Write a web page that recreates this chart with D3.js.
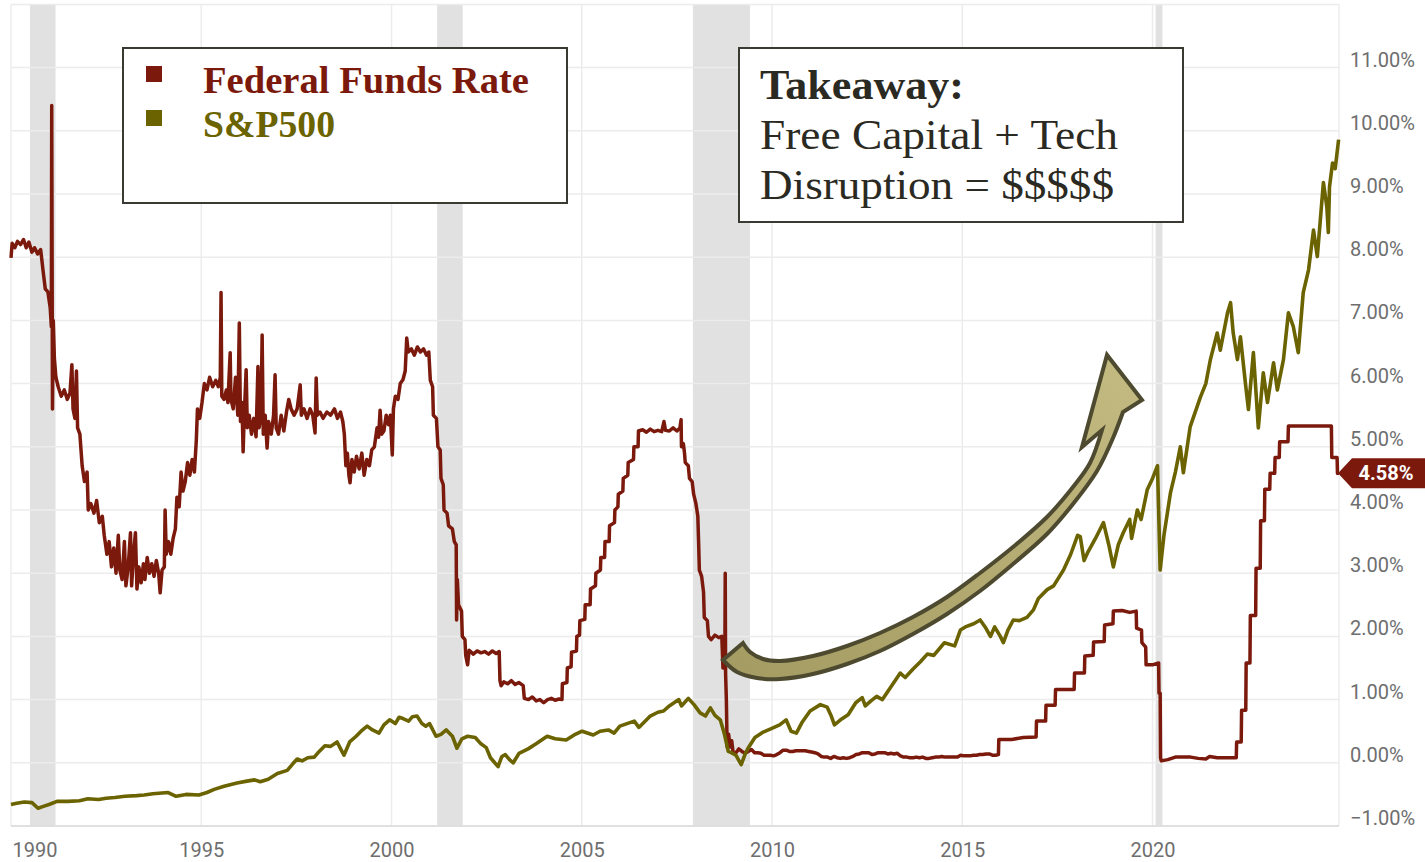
<!DOCTYPE html>
<html><head><meta charset="utf-8">
<script src="https://cdn.jsdelivr.net/npm/d3@7"></script>
<style>body{margin:0;background:#fff}svg{display:block}</style>
</head><body><svg id="c" width="1425" height="862"></svg>
<script>
// ---------------- DATA ----------------
const xTicks = [1990, 1995, 2000, 2005, 2010, 2015, 2020];
const yTicks = [-1, 0, 1, 2, 3, 4, 5, 6, 7, 8, 9, 10, 11];
const recessions = [[1990.5, 1991.17], [2001.2, 2001.87], [2007.92, 2009.42], [2020.08, 2020.26]];
const seriesNames = ["Federal Funds Rate", "S&P500"];
const lastRate = 4.58;

// Federal funds rate, [year, %] 1990-2008
const fedFundsEarly = [
[1990.00,7.99],[1990.03,8.22],[1990.10,8.15],[1990.17,8.25],[1990.25,8.2],[1990.33,8.28],[1990.40,8.15],[1990.47,8.24],[1990.55,8.08],[1990.62,8.15],[1990.70,8.05],[1990.78,8.12],[1990.84,7.8],[1990.90,7.5],[1990.97,7.45],[1991.03,7.2],[1991.06,6.9],[1991.07,10.4],[1991.09,5.6],[1991.11,7.0],[1991.14,6.4],[1991.18,6.1],[1991.24,5.95],[1991.32,5.8],[1991.40,5.9],[1991.48,5.75],[1991.55,5.85],[1991.60,6.3],[1991.63,5.6],[1991.68,5.45],[1991.72,6.2],[1991.75,5.3],[1991.81,5.2],[1991.87,4.7],[1991.93,4.45],[1992.00,4.6],[1992.03,4.0],[1992.10,4.1],[1992.18,3.95],[1992.25,4.15],[1992.32,3.8],[1992.40,3.9],[1992.45,3.6],[1992.52,3.3],[1992.58,3.5],[1992.64,3.1],[1992.70,3.4],[1992.76,3.0],[1992.82,3.6],[1992.86,3.05],[1992.92,2.9],[1992.98,3.5],[1993.02,2.8],[1993.08,3.1],[1993.14,3.64],[1993.17,2.8],[1993.22,3.3],[1993.27,3.64],[1993.31,2.75],[1993.36,3.1],[1993.42,2.85],[1993.48,3.15],[1993.52,2.9],[1993.58,3.25],[1993.64,3.0],[1993.70,3.15],[1993.76,2.95],[1993.82,3.2],[1993.88,3.0],[1993.92,2.69],[1993.97,3.05],[1994.03,3.1],[1994.05,4.0],[1994.08,3.3],[1994.14,3.5],[1994.20,3.3],[1994.26,3.55],[1994.32,3.7],[1994.36,4.2],[1994.42,4.05],[1994.47,4.6],[1994.52,4.3],[1994.58,4.45],[1994.64,4.75],[1994.70,4.55],[1994.76,4.8],[1994.82,4.6],[1994.87,5.1],[1994.90,5.6],[1994.96,5.45],[1995.02,5.7],[1995.08,6.0],[1995.15,5.9],[1995.22,6.1],[1995.30,5.95],[1995.38,6.05],[1995.45,5.95],[1995.50,6.1],[1995.52,7.44],[1995.54,5.8],[1995.60,5.75],[1995.66,5.9],[1995.70,5.7],[1995.76,6.49],[1995.78,5.75],[1995.84,5.6],[1995.90,6.1],[1995.96,5.5],[1996.00,6.96],[1996.03,5.4],[1996.07,5.7],[1996.10,4.92],[1996.13,5.5],[1996.18,6.22],[1996.21,5.3],[1996.26,5.5],[1996.32,5.2],[1996.38,5.45],[1996.44,5.16],[1996.49,6.27],[1996.52,5.3],[1996.57,5.5],[1996.60,6.77],[1996.63,5.2],[1996.68,5.5],[1996.73,4.98],[1996.77,5.4],[1996.84,5.2],[1996.90,5.5],[1996.94,6.14],[1996.97,5.3],[1997.03,5.2],[1997.10,5.5],[1997.17,5.25],[1997.24,5.55],[1997.30,5.75],[1997.36,5.6],[1997.44,5.5],[1997.52,5.6],[1997.60,5.98],[1997.63,5.5],[1997.70,5.6],[1997.78,5.45],[1997.86,5.6],[1997.93,5.5],[1997.99,5.22],[1998.02,6.09],[1998.05,5.5],[1998.12,5.55],[1998.20,5.45],[1998.30,5.55],[1998.40,5.5],[1998.50,5.6],[1998.58,5.45],[1998.66,5.55],[1998.72,5.4],[1998.76,5.2],[1998.80,4.7],[1998.84,4.9],[1998.88,4.55],[1998.91,4.43],[1998.96,4.8],[1999.02,4.6],[1999.08,4.85],[1999.15,4.65],[1999.22,4.9],[1999.28,4.55],[1999.35,4.8],[1999.42,4.7],[1999.48,4.95],[1999.55,5.0],[1999.62,5.3],[1999.66,5.15],[1999.70,5.58],[1999.74,5.2],[1999.80,5.25],[1999.86,5.5],[1999.92,5.35],[1999.97,5.5],[2000.02,4.87],[2000.05,5.6],[2000.10,5.8],[2000.17,5.75],[2000.23,6.0],[2000.30,6.06],[2000.36,6.2],[2000.40,6.72],[2000.44,6.5],[2000.52,6.55],[2000.60,6.45],[2000.68,6.58],[2000.76,6.5],[2000.84,6.55],[2000.92,6.45],[2000.98,6.5],[2001.02,6.05],[2001.08,5.95],[2001.10,5.5],[2001.18,5.45],[2001.22,5.0],[2001.28,4.95],[2001.30,4.5],[2001.36,4.4],[2001.38,4.0],[2001.46,3.95],[2001.50,3.75],[2001.60,3.7],[2001.65,3.5],[2001.70,3.45],[2001.71,2.26],[2001.73,2.9],[2001.76,2.5],[2001.84,2.4],[2001.86,2.0],[2001.93,1.95],[2001.95,1.7],[2002.00,1.55],[2002.04,1.78],[2002.15,1.72],[2002.25,1.77],[2002.35,1.74],[2002.45,1.76],[2002.55,1.72],[2002.65,1.77],[2002.75,1.73],[2002.83,1.76],[2002.85,1.3],[2002.88,1.22],[2002.95,1.28],[2003.05,1.25],[2003.15,1.3],[2003.25,1.24],[2003.35,1.27],[2003.46,1.22],[2003.49,1.02],[2003.60,1.0],[2003.70,1.04],[2003.80,0.98],[2003.90,1.0],[2004.00,0.95],[2004.10,1.0],[2004.20,1.02],[2004.30,0.99],[2004.40,1.01],[2004.48,1.0],
[2004.49,1.25],[2004.61,1.27],[2004.62,1.5],[2004.72,1.52],[2004.73,1.75],[2004.86,1.77],[2004.87,2.0],[2004.94,2.02],[2004.95,2.25],[2005.08,2.27],[2005.09,2.5],[2005.22,2.5],[2005.23,2.75],[2005.36,2.8],[2005.37,3.0],[2005.49,3.05],[2005.50,3.25],[2005.60,3.25],[2005.61,3.5],[2005.72,3.5],[2005.73,3.75],[2005.86,3.8],[2005.87,4.0],[2005.95,4.05],[2005.96,4.25],[2006.08,4.3],[2006.09,4.5],[2006.21,4.55],[2006.22,4.75],[2006.36,4.8],[2006.37,5.0],[2006.48,5.0],[2006.49,5.25],[2006.6,5.27],[2006.7,5.23],[2006.8,5.28],[2006.9,5.24],[2007.0,5.26],[2007.1,5.24],[2007.16,5.4],[2007.2,5.26],[2007.3,5.25],[2007.4,5.3],[2007.5,5.25],[2007.58,5.3],[2007.61,5.43],[2007.62,5.0],[2007.67,5.05],[2007.70,4.9],[2007.72,4.75],[2007.80,4.7],[2007.83,4.5],[2007.90,4.45],[2007.94,4.25],[2008.0,4.1],[2008.05,3.9],[2008.07,3.5],[2008.09,3.05],[2008.15,2.95],[2008.20,2.7],[2008.22,2.3],[2008.30,2.25],[2008.33,2.0],[2008.40,1.95],[2008.50,2.02],[2008.60,1.98],[2008.68,2.0],[2008.71,1.5],[2008.76,1.6],[2008.77,3.0],[2008.78,1.4],[2008.80,1.0],[2008.82,0.25],[2008.86,0.45],[2008.90,0.25],[2008.94,0.35],[2008.98,0.15]
];
// Federal funds rate, monthly 2009-01 .. 2015-11
const fedFundsMonthlyStart = 2009;
const fedFundsMonthly = [
0.15,0.22,0.18,0.15,0.18,0.21,0.16,0.16,0.15,0.12,0.12,0.12,
0.11,0.13,0.16,0.20,0.20,0.18,0.18,0.19,0.19,0.19,0.19,0.18,
0.17,0.16,0.14,0.10,0.09,0.09,0.07,0.10,0.08,0.07,0.08,0.07,
0.08,0.10,0.13,0.14,0.16,0.16,0.16,0.13,0.14,0.16,0.16,0.16,
0.14,0.15,0.14,0.15,0.11,0.09,0.09,0.08,0.08,0.09,0.08,0.09,
0.07,0.07,0.08,0.09,0.09,0.10,0.09,0.09,0.09,0.09,0.09,0.12,
0.11,0.11,0.11,0.12,0.12,0.13,0.13,0.14,0.14,0.12,0.12
];
// Federal funds rate, [year, %] steps 2015-2024
const fedFundsLate = [
[2015.95,0.13],[2015.96,0.37],[2016.3,0.37],[2016.6,0.40],[2016.94,0.41],[2016.95,0.66],[2017.19,0.66],[2017.20,0.91],[2017.44,0.91],[2017.45,1.16],[2017.94,1.16],[2017.95,1.42],[2018.21,1.42],[2018.22,1.69],[2018.44,1.70],[2018.45,1.91],[2018.73,1.92],[2018.74,2.18],[2018.96,2.20],[2018.97,2.40],[2019.2,2.41],[2019.4,2.38],[2019.57,2.40],[2019.58,2.13],[2019.71,2.10],[2019.72,1.90],[2019.82,1.83],[2019.83,1.55],[2020.0,1.55],[2020.16,1.58],[2020.17,1.10],[2020.20,1.10],[2020.21,0.08],[2020.23,0.03],[2020.4,0.05],[2020.6,0.09],[2020.8,0.09],[2021.0,0.09],[2021.2,0.07],[2021.4,0.06],[2021.5,0.10],[2021.7,0.08],[2021.9,0.08],[2022.1,0.08],[2022.20,0.08],[2022.21,0.33],[2022.33,0.33],[2022.34,0.83],[2022.45,0.83],[2022.46,1.58],[2022.56,1.58],[2022.57,2.33],[2022.71,2.33],[2022.72,3.08],[2022.83,3.08],[2022.84,3.83],[2022.94,3.83],[2022.95,4.33],[2023.08,4.33],[2023.09,4.58],[2023.21,4.58],[2023.22,4.83],[2023.33,4.83],[2023.34,5.08],[2023.56,5.08],[2023.57,5.33],[2024.70,5.33],[2024.71,4.83],[2024.85,4.83],[2024.86,4.58],[2024.90,4.58]
];
// S&P500 (plotted in chart units), [year, value]
const sp500 = [
[1990.00,-0.66],[1990.15,-0.64],[1990.35,-0.62],[1990.55,-0.63],[1990.71,-0.72],[1990.85,-0.69],[1991.0,-0.66],[1991.21,-0.61],[1991.5,-0.61],[1991.8,-0.6],[1992.02,-0.57],[1992.3,-0.58],[1992.5,-0.56],[1992.73,-0.55],[1993.0,-0.53],[1993.3,-0.52],[1993.5,-0.51],[1993.73,-0.49],[1994.13,-0.47],[1994.34,-0.53],[1994.6,-0.5],[1994.94,-0.51],[1995.15,-0.47],[1995.34,-0.42],[1995.6,-0.37],[1995.94,-0.32],[1996.2,-0.29],[1996.4,-0.27],[1996.55,-0.3],[1996.76,-0.26],[1997.0,-0.17],[1997.26,-0.12],[1997.4,-0.02],[1997.52,0.06],[1997.65,0.03],[1997.8,0.08],[1997.97,0.09],[1998.1,0.18],[1998.25,0.27],[1998.4,0.26],[1998.57,0.33],[1998.68,0.2],[1998.75,0.12],[1998.9,0.33],[1999.07,0.42],[1999.2,0.5],[1999.36,0.58],[1999.5,0.52],[1999.67,0.47],[1999.8,0.6],[1999.95,0.68],[2000.1,0.62],[2000.2,0.72],[2000.3,0.7],[2000.45,0.66],[2000.55,0.73],[2000.67,0.74],[2000.8,0.62],[2000.9,0.58],[2001.0,0.62],[2001.17,0.42],[2001.3,0.45],[2001.44,0.52],[2001.6,0.42],[2001.72,0.23],[2001.85,0.38],[2002.0,0.42],[2002.2,0.4],[2002.35,0.3],[2002.49,0.24],[2002.6,0.08],[2002.8,-0.06],[2002.9,0.1],[2002.99,0.13],[2003.1,0.05],[2003.2,0.0],[2003.35,0.15],[2003.59,0.22],[2003.8,0.3],[2004.09,0.42],[2004.3,0.38],[2004.59,0.36],[2004.8,0.44],[2005.01,0.5],[2005.3,0.44],[2005.48,0.5],[2005.7,0.52],[2005.85,0.47],[2006.0,0.58],[2006.38,0.66],[2006.5,0.56],[2006.8,0.74],[2007.0,0.8],[2007.15,0.82],[2007.30,0.9],[2007.55,1.0],[2007.62,0.9],[2007.80,1.02],[2007.95,0.92],[2008.11,0.79],[2008.25,0.74],[2008.38,0.87],[2008.50,0.75],[2008.64,0.68],[2008.75,0.45],[2008.85,0.18],[2008.93,0.16],[2009.05,0.12],[2009.19,-0.03],[2009.30,0.15],[2009.37,0.23],[2009.55,0.4],[2009.75,0.48],[2010.01,0.55],[2010.2,0.6],[2010.37,0.68],[2010.5,0.5],[2010.64,0.47],[2010.8,0.65],[2011.0,0.82],[2011.27,0.92],[2011.45,0.88],[2011.55,0.75],[2011.64,0.6],[2011.8,0.68],[2012.0,0.76],[2012.2,0.95],[2012.37,1.03],[2012.45,0.9],[2012.6,0.98],[2012.75,1.05],[2012.90,1.0],[2013.1,1.18],[2013.37,1.42],[2013.5,1.35],[2013.7,1.48],[2013.9,1.6],[2014.08,1.72],[2014.25,1.7],[2014.53,1.9],[2014.8,1.85],[2014.95,2.1],[2015.08,2.15],[2015.3,2.2],[2015.47,2.26],[2015.6,2.15],[2015.74,2.0],[2015.85,2.15],[2016.0,2.0],[2016.08,1.90],[2016.2,2.1],[2016.34,2.26],[2016.5,2.25],[2016.7,2.3],[2016.87,2.42],[2017.0,2.6],[2017.23,2.74],[2017.4,2.8],[2017.66,3.05],[2017.85,3.3],[2018.03,3.6],[2018.10,3.58],[2018.20,3.2],[2018.29,3.32],[2018.5,3.55],[2018.71,3.8],[2018.85,3.45],[2018.97,3.10],[2019.1,3.45],[2019.23,3.64],[2019.4,3.85],[2019.45,3.55],[2019.60,4.0],[2019.7,3.85],[2019.86,4.32],[2020.0,4.5],[2020.13,4.70],[2020.20,3.05],[2020.3,3.6],[2020.47,4.27],[2020.6,4.6],[2020.73,5.0],[2020.81,4.59],[2020.99,5.32],[2021.26,5.79],[2021.4,6.0],[2021.52,6.38],[2021.70,6.80],[2021.78,6.53],[2021.97,7.12],[2022.05,7.28],[2022.12,6.80],[2022.23,6.38],[2022.31,6.74],[2022.44,6.01],[2022.52,5.59],[2022.65,6.49],[2022.78,5.30],[2022.91,6.17],[2023.02,5.70],[2023.18,6.33],[2023.28,5.90],[2023.44,6.38],[2023.57,7.12],[2023.70,6.9],[2023.83,6.49],[2023.96,7.44],[2024.10,7.8],[2024.23,8.43],[2024.33,8.01],[2024.49,9.18],[2024.58,8.8],[2024.62,8.39],[2024.65,9.11],[2024.73,9.49],[2024.80,9.4],[2024.89,9.86]
];

// ---------------- DRAW ----------------
const W = 1425, H = 862;
const RED = "#7b1a0c", OLIVE = "#6b6300";
const svg = d3.select("#c");
const x = d3.scaleLinear().domain([1990, 2024.9]).range([11, 1339]);
const y = d3.scaleLinear().domain([-1, 12]).range([826, 4.4]);

const fedFunds = fedFundsEarly
  .concat(fedFundsMonthly.map((v, i) => [fedFundsMonthlyStart + (i + 0.5) / 12, v]))
  .concat(fedFundsLate);

// recession bands
svg.append("g").selectAll("rect").data(recessions).join("rect")
  .attr("x", d => x(d[0])).attr("width", d => x(d[1]) - x(d[0]))
  .attr("y", y(12)).attr("height", y(-1) - y(12)).attr("fill", "#e1e1e1");

// gridlines
const grid = svg.append("g").attr("stroke", "#ececec").attr("stroke-width", 1.5);
grid.selectAll(".h").data(yTicks.concat([12])).join("line")
  .attr("x1", x(1990)).attr("x2", x(2024.9)).attr("y1", d => y(d)).attr("y2", d => y(d));
grid.selectAll(".v").data(xTicks.concat([2024.9])).join("line")
  .attr("y1", y(12)).attr("y2", y(-1)).attr("x1", d => x(d)).attr("x2", d => x(d));
svg.append("line").attr("x1", x(1990)).attr("x2", x(2024.9)).attr("y1", y(-1)).attr("y2", y(-1))
  .attr("stroke", "#dadada").attr("stroke-width", 1.5);

// axes labels
const yAxis = d3.axisRight(y).tickValues(yTicks).tickSize(0).tickPadding(0)
  .tickFormat(d => d3.format(".2f")(d) + "%");
const ya = svg.append("g").attr("transform", `translate(1350,0)`).call(yAxis);
ya.select(".domain").remove();
ya.selectAll("text").attr("font-family", "Roboto, sans-serif").attr("font-size", 20)
  .attr("fill", "#6e6e6e").attr("dy", "-0.08em").attr("dominant-baseline", "auto")
  .attr("y", 0);

const xAxis = d3.axisBottom(x).tickValues(xTicks).tickSize(0).tickPadding(0).tickFormat(d3.format("d"));
const xa = svg.append("g").attr("transform", `translate(0,857)`).call(xAxis);
xa.select(".domain").remove();
xa.selectAll("text").attr("font-family", "Roboto, sans-serif").attr("font-size", 20)
  .attr("fill", "#6e6e6e").attr("dy", 0).attr("y", 0)
  .attr("text-anchor", d => d === 1990 ? "start" : "middle")
  .attr("dx", d => d === 1990 ? 1 : 0);

// lines
const line = d3.line().x(d => x(d[0])).y(d => y(d[1]));
svg.append("path").datum(fedFunds).attr("d", line).attr("fill", "none")
  .attr("stroke", RED).attr("stroke-width", 3.5).attr("stroke-linejoin", "round");
svg.append("path").datum(sp500).attr("d", line).attr("fill", "none")
  .attr("stroke", OLIVE).attr("stroke-width", 3.6).attr("stroke-linejoin", "round");

// last value badge
const yc = y(lastRate), xr = x(2024.9);
svg.append("path")
  .attr("d", `M${xr-1},${yc} L${xr+13},${yc-15} L${W},${yc-15} L${W},${yc+15} L${xr+13},${yc+15} Z`)
  .attr("fill", RED);
svg.append("text").attr("x", 1386).attr("y", yc + 7).attr("text-anchor", "middle")
  .attr("font-family", "Roboto, sans-serif").attr("font-weight", "bold").attr("font-size", 20)
  .attr("fill", "#fff").text(d3.format(".2f")(lastRate) + "%");

// legend box
svg.append("rect").attr("x", 123).attr("y", 48).attr("width", 444).attr("height", 155)
  .attr("fill", "#fff").attr("stroke", "#3a3a33").attr("stroke-width", 2);
[RED, OLIVE].forEach((c, i) => {
  svg.append("rect").attr("x", 146).attr("y", 66 + i * 44).attr("width", 16).attr("height", 16).attr("fill", c);
  svg.append("text").attr("x", 203).attr("y", 93 + i * 44)
    .attr("font-family", "'Liberation Serif', serif").attr("font-weight", "bold").attr("font-size", 38)
    .attr("fill", c).attr("textLength", i === 0 ? 326 : 132).attr("lengthAdjust", "spacingAndGlyphs")
    .text(seriesNames[i]);
});

// takeaway box
svg.append("rect").attr("x", 739).attr("y", 48).attr("width", 444).attr("height", 174)
  .attr("fill", "#fff").attr("stroke", "#3a3a33").attr("stroke-width", 2);
const tk = [
  {t: "Takeaway:", w: "bold", y: 99, len: 204},
  {t: "Free Capital + Tech", w: "normal", y: 149, len: 358},
  {t: "Disruption = $$$$$", w: "normal", y: 199, len: 354}
];
svg.selectAll(".tk").data(tk).join("text").attr("x", 760).attr("y", d => d.y)
  .attr("font-family", "'Liberation Serif', serif").attr("font-size", 42)
  .attr("font-weight", d => d.w).attr("fill", "#2b2a22")
  .attr("textLength", d => d.len).attr("lengthAdjust", "spacingAndGlyphs").text(d => d.t);

// curved arrow annotation
const arrowOuter = [[723,660],[737,672],[757,678],[780,679],[813,674],[847,664],[880,651],[913,634],[947,614],[980,591],[1013,564],[1047,534],[1073,504],[1097,471],[1113,438],[1123,412]];
const arrowHead = [[1142,400],[1107,355],[1082,447]];
const arrowInner = [[1102,430],[1090,463],[1073,487],[1047,517],[1013,547],[980,573],[947,597],[913,617],[880,633],[847,646],[813,656],[780,661],[763,659],[750,652],[743,643]];
const cr = d3.line().curve(d3.curveCatmullRom.alpha(0.5));
const defs = svg.append("defs");
const gr = defs.append("linearGradient").attr("id", "ag").attr("x1", "0").attr("y1", "1").attr("x2", "1").attr("y2", "0");
gr.append("stop").attr("offset", "0").attr("stop-color", "#a49b62");
gr.append("stop").attr("offset", "1").attr("stop-color", "#c4bb82");
const arrowD = cr(arrowOuter) + arrowHead.map(p => `L${p[0]},${p[1]}`).join("") +
  cr(arrowInner).replace(/^M/, "L") + "Z";
svg.append("path").attr("d", arrowD).attr("fill", "url(#ag)")
  .attr("stroke", "#4e4a30").attr("stroke-width", 4).attr("stroke-linejoin", "miter");
</script></body></html>
